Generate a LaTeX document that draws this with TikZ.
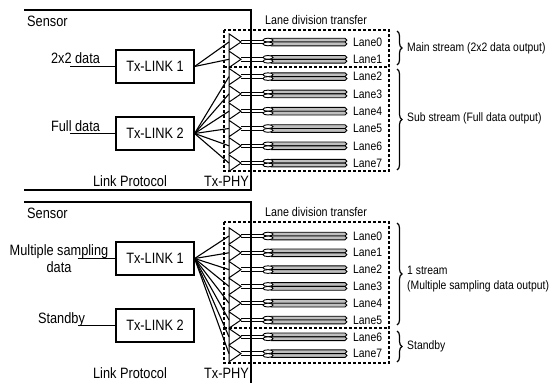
\documentclass[tikz,border=0pt]{standalone}
\usepackage{fontspec}
\setmainfont{Liberation Sans}[FakeStretch=0.85]
\usetikzlibrary{decorations.pathreplacing}
\tikzset{
	frame/.style={line width=1.6pt},
	wire/.style={line width=1.1pt},
	pair/.style={line width=0.9pt},
	linkbox/.style={draw, line width=1.2pt, minimum width=78pt, minimum height=33pt, inner sep=0pt, font=\fontsize{15}{17}\selectfont},
	biglabel/.style={inner sep=0pt, font=\fontsize{15}{17}\selectfont},
	sidelabel/.style={inner sep=0pt, anchor=west, align=left, font=\fontsize{12.2}{15}\selectfont},
	lanelabel/.style={inner sep=0pt, anchor=west, font=\fontsize{12.2}{14}\selectfont},
	titlelabel/.style={inner sep=0pt, anchor=west, font=\fontsize{12.6}{14}\selectfont},
	lanebox/.style={densely dashed, line width=1.3pt},
	cable/.style={line width=0.9pt, fill=black!25},
	buffer/.style={line width=1pt, fill=white},
	bracket/.style={decorate, decoration={brace, amplitude=5pt}, line width=1.2pt},
}
% one lane: prefix, index, y
\def\lanecable#1#2#3{
	\draw[buffer] (229,#3-8.2) -- (241,#3) -- (229,#3+8.2) -- cycle;
	\coordinate (#1#2) at (229,#3);
	\draw[pair] (241,#3-1.7) -- (265,#3-1.7) (241,#3+1.7) -- (265,#3+1.7);
	\draw[cable] (271,#3-3.8) -- (345,#3-3.8) arc (-90:90:1.9) -- (271,#3) -- cycle;
	\draw[cable] (271,#3) -- (345,#3) arc (-90:90:1.9) -- (271,#3+3.8) -- cycle;
	\draw[pair, fill=white] (268,#3-1.9) ellipse (5 and 1.9);
	\draw[pair, fill=white] (268,#3+1.9) ellipse (5 and 1.9);
	\node[lanelabel] (#1l#2) at (353,#3) {Lane#2};
}

\begin{document}
\begin{tikzpicture}[x=1pt, y=-1pt]
			%%%%% START %%%%%
			\useasboundingbox (0,0) rectangle (551,383);
			
			% upper sensor
			\draw[frame] (24,10) -- (251,10) -- (251,190) -- (24,190);
			\node[biglabel, anchor=west] (sensA) at (27,21) {Sensor};
			\node[linkbox] (linkA1) at (155,66.5) {Tx-LINK 1};
			\node[linkbox] (linkA2) at (155,133.5) {Tx-LINK 2};
			\coordinate (inA1) at (70,66.5);
			\coordinate (inA2) at (70,133.5);
			\draw[wire] (inA1) -- (linkA1);
			\draw[wire] (inA2) -- (linkA2);
			\node[biglabel] (datA1) at (75.5,58) {2x2 data};
			\node[biglabel] (datA2) at (75.5,126) {Full data};
			\node[biglabel] (protA) at (130,181) {Link Protocol};
			\node[biglabel, anchor=east] (phyA) at (249,181) {Tx-PHY};
			
			\draw[lanebox] (224,30) rectangle (389,171);
			\draw[lanebox] (224,67) -- (389,67);
			\node[titlelabel] (ldtA) at (265,20) {Lane division transfer};
			\foreach \i in {0,...,7} {\lanecable{a}{\i}{42+17.3*\i}}
			\foreach \i in {0,1} \draw[wire] (linkA1.east) -- (a\i);
			\foreach \i in {2,...,7} \draw[wire] (linkA2.east) -- (a\i);
			\draw[frame] (251,10) -- (251,190);
			
			\draw[bracket] (397,31) -- (397,65);
			\draw[bracket] (397,69) -- (397,170);
			\node[sidelabel] (mainA) at (407,48.5) {Main stream (2x2 data output)};
			\node[sidelabel] (subA) at (407,118) {Sub stream (Full data output)};
			
			% lower sensor
			\draw[frame] (24,202) -- (251,202) -- (251,383);
			\node[biglabel, anchor=west] (sensB) at (27,213) {Sensor};
			\node[linkbox] (linkB1) at (155,258.5) {Tx-LINK 1};
			\node[linkbox] (linkB2) at (155,325.5) {Tx-LINK 2};
			\coordinate (inB1) at (78,258.5);
			\coordinate (inB2) at (78,325.5);
			\draw[wire] (inB1) -- (linkB1);
			\draw[wire] (inB2) -- (linkB2);
			\node[biglabel, align=center] (datB1) at (59,258.5) {Multiple sampling\\data};
			\node[biglabel] (datB2) at (61.5,320) {Standby};
			\node[biglabel] (protB) at (130,373) {Link Protocol};
			\node[biglabel, anchor=east] (phyB) at (249,373) {Tx-PHY};
			
			\draw[lanebox] (224,222) rectangle (389,363);
			\draw[lanebox] (224,328) -- (389,328);
			\node[titlelabel] (ldtB) at (265,212) {Lane division transfer};
			\foreach \i in {0,...,7} {\lanecable{b}{\i}{236+16.8*\i}}
			\foreach \i in {0,...,7} \draw[wire] (linkB1.east) -- (b\i);
			\draw[frame] (251,202) -- (251,383);
			
			\draw[bracket] (397,223) -- (397,325);
			\draw[bracket] (397,331) -- (397,362);
			\node[sidelabel] (oneB) at (407,279.5) {1 stream\\(Multiple sampling data output)};
			\node[sidelabel] (stbB) at (407,346) {Standby};
			%%%%% END %%%%%
\end{tikzpicture}
\end{document}
